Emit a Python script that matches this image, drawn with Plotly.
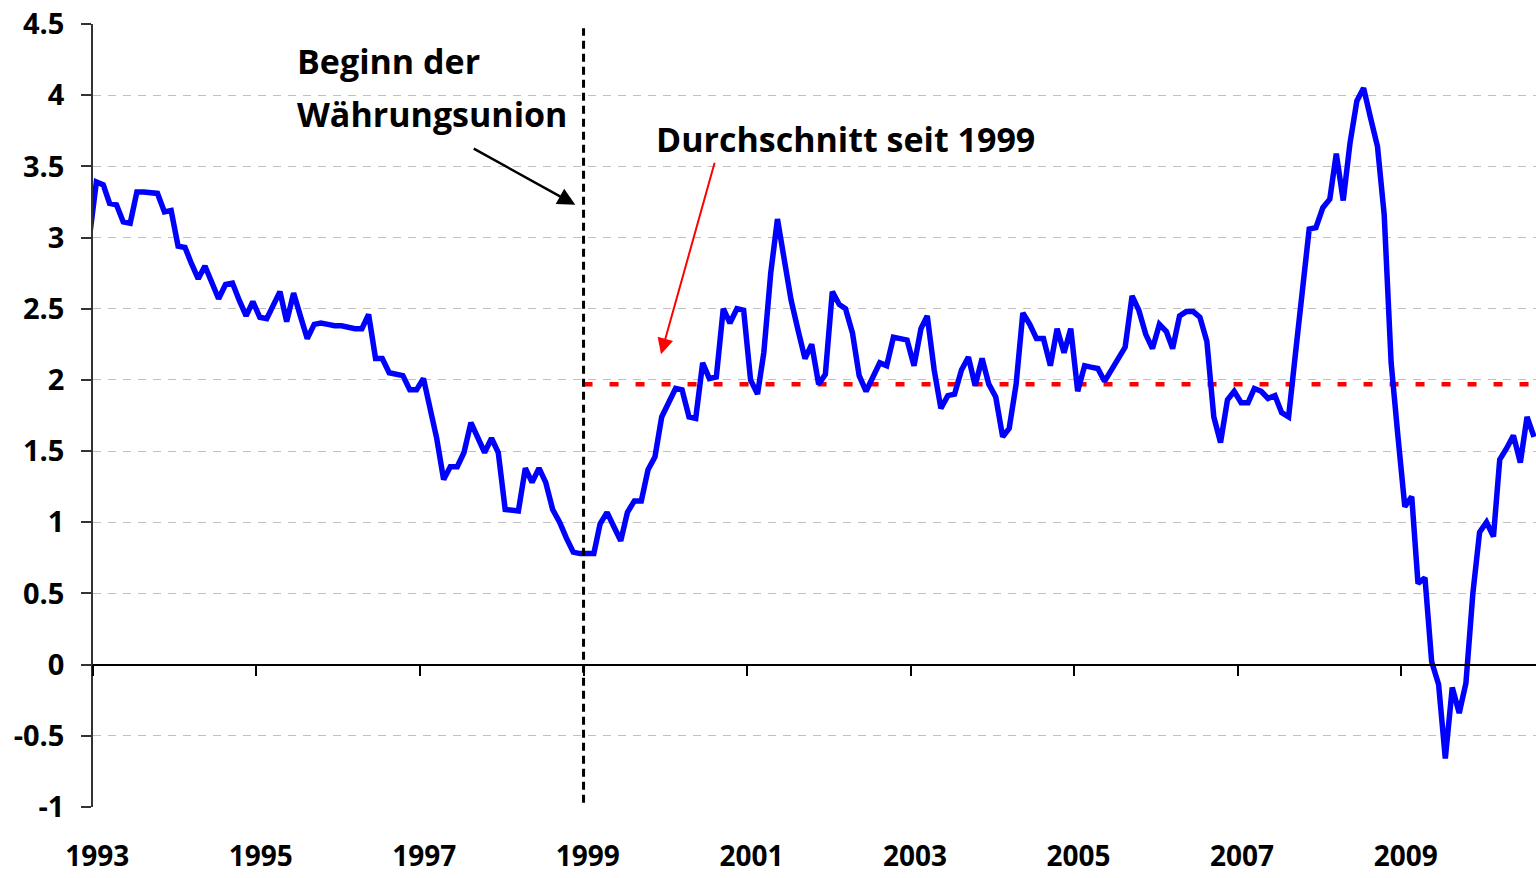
import pandas as pd
import plotly.graph_objects as go

# ---------------- data ----------------
start_month = "1992-12-01"
inflation = [
    3.00,
    # 1993
    3.39, 3.37, 3.24, 3.23, 3.11, 3.10, 3.32, 3.32, 3.31, 3.31, 3.18, 3.19,
    # 1994
    2.94, 2.93, 2.82, 2.71, 2.80, 2.68, 2.57, 2.67, 2.68, 2.56, 2.45, 2.55,
    # 1995
    2.44, 2.43, 2.52, 2.62, 2.41, 2.61, 2.45, 2.29, 2.39, 2.40, 2.39, 2.38,
    # 1996
    2.38, 2.37, 2.36, 2.36, 2.46, 2.15, 2.15, 2.05, 2.04, 2.03, 1.93, 1.93,
    # 1997
    2.01, 1.81, 1.59, 1.30, 1.39, 1.39, 1.49, 1.70, 1.60, 1.49, 1.59, 1.49,
    # 1998
    1.09, 1.08, 1.08, 1.38, 1.28, 1.38, 1.28, 1.09, 1.00, 0.89, 0.79, 0.78,
    # 1999
    0.78, 0.78, 0.99, 1.07, 0.97, 0.87, 1.07, 1.15, 1.15, 1.37, 1.46, 1.74,
    # 2000
    1.84, 1.94, 1.93, 1.74, 1.73, 2.12, 2.01, 2.02, 2.50, 2.40, 2.50, 2.49,
    # 2001
    2.00, 1.90, 2.19, 2.75, 3.13, 2.84, 2.56, 2.35, 2.15, 2.25, 1.97, 2.04,
    # 2002
    2.62, 2.53, 2.50, 2.33, 2.03, 1.92, 2.01, 2.12, 2.10, 2.30, 2.29, 2.28,
    # 2003
    2.10, 2.36, 2.45, 2.07, 1.80, 1.89, 1.90, 2.07, 2.16, 1.96, 2.15, 1.97,
    # 2004
    1.88, 1.60, 1.66, 1.97, 2.47, 2.39, 2.29, 2.29, 2.10, 2.36, 2.19, 2.36,
    # 2005
    1.92, 2.10, 2.09, 2.08, 1.99, 2.07, 2.16, 2.23, 2.59, 2.49, 2.32, 2.22,
    # 2006
    2.39, 2.34, 2.22, 2.45, 2.48, 2.48, 2.44, 2.27, 1.74, 1.56, 1.86, 1.92,
    # 2007
    1.84, 1.84, 1.94, 1.92, 1.87, 1.89, 1.77, 1.74, 2.19, 2.60, 3.06, 3.07,
    # 2008
    3.21, 3.27, 3.59, 3.26, 3.66, 3.96, 4.05, 3.84, 3.64, 3.16, 2.12, 1.61,
    # 2009
    1.11, 1.18, 0.57, 0.61, 0.02, -0.14, -0.66, -0.16, -0.34, -0.13, 0.50, 0.93,
    # 2010
    1.00, 0.90, 1.44, 1.52, 1.61, 1.42, 1.74, 1.60,
]
avg_since_1999 = 1.97
euro_start = "1999-01-01"
x_start, x_end = "1993-01-01", "2010-08-25"
label_years = [1993, 1995, 1997, 1999, 2001, 2003, 2005, 2007, 2009]
y_ticks = [4.5, 4, 3.5, 3, 2.5, 2, 1.5, 1, 0.5, 0, -0.5, -1]
y_ticktext = ["4.5", "4", "3.5", "3", "2.5", "2", "1.5", "1", "0.5", "0", "-0.5", "-1"]
text_begin = ["Beginn der", "Währungsunion"]
text_avg = "Durchschnitt seit 1999"

# ---------------- figure ----------------
dates = pd.date_range(start_month, periods=len(inflation), freq="MS") + pd.Timedelta(days=15)

FONT = "Open Sans"
fig = go.Figure()

# average line (since 1999)
fig.add_trace(go.Scatter(
    x=[euro_start, x_end], y=[avg_since_1999, avg_since_1999],
    mode="lines", line=dict(color="#ff0000", width=4.5, dash="9px,17px"),
    hoverinfo="skip", showlegend=False))

# inflation line
fig.add_trace(go.Scatter(
    x=dates, y=inflation, mode="lines",
    line=dict(color="#0000ff", width=5.5), showlegend=False))

# helper trace for zero-line axis
fig.add_trace(go.Scatter(x=[], y=[], xaxis="x2", showlegend=False))

fig.add_shape(type="line", xref="x", yref="y",
              x0=euro_start, x1=euro_start, y0=-0.97, y1=4.47,
              line=dict(color="black", width=3, dash="8px,5px"), layer="above")

tick_font = dict(family=FONT, size=29, color="black", weight="bold")
xtick_font = dict(family=FONT, size=28, color="black", weight="bold")

fig.update_layout(
    width=1536, height=878,
    margin=dict(l=93, r=0, t=24, b=71, autoexpand=False),
    paper_bgcolor="white", plot_bgcolor="white",
    showlegend=False,
    xaxis=dict(
        type="date", range=[x_start, x_end],
        tickvals=[f"{y}-01-20" for y in label_years],
        ticktext=[str(y) for y in label_years],
        tickfont=xtick_font, showline=False, ticks="", showgrid=False,
        zeroline=False, ticklabelstandoff=30,
    ),
    xaxis2=dict(
        type="date", overlaying="x", matches="x", anchor="free",
        position=1 / 5.5, range=[x_start, x_end],
        tickvals=[f"{y}-01-01" for y in label_years],
        showticklabels=False, ticks="outside", ticklen=11, tickwidth=1.5,
        tickcolor="black", showline=True, linecolor="black", linewidth=1.5,
        showgrid=False, zeroline=False,
    ),
    yaxis=dict(
        range=[-1, 4.5], tickvals=y_ticks, ticktext=y_ticktext,
        tickfont=tick_font, showline=True, linecolor="#333333", linewidth=1.5,
        ticks="outside", ticklen=10, tickwidth=1.5, tickcolor="#333333",
        showgrid=True, gridcolor="#c0c0c0", gridwidth=1, griddash="8px,7px",
        zeroline=False, ticklabelstandoff=11,
    ),
)

ann_font = dict(family=FONT, size=34, color="black", weight="bold")
fig.add_annotation(text=text_begin[0], xref="paper", yref="paper",
                   x=0.1400, y=0.9527, xanchor="left", yanchor="middle",
                   showarrow=False, font=ann_font)
fig.add_annotation(text=text_begin[1], xref="paper", yref="paper",
                   x=0.1400, y=0.885, xanchor="left", yanchor="middle",
                   showarrow=False, font=ann_font)
fig.add_annotation(text=text_avg, xref="paper", yref="paper",
                   x=0.3890, y=0.8531, xanchor="left", yanchor="middle",
                   showarrow=False, font=ann_font)

# arrows
fig.add_annotation(text="", x="1998-11-25", y=3.23, xref="x", yref="y",
                   ax=-103, ay=-57, axref="pixel", ayref="pixel",
                   showarrow=True, arrowhead=2, arrowsize=1.4, arrowwidth=2.5,
                   arrowcolor="black", standoff=0)
fig.add_annotation(text="", x="1999-12-13", y=2.18, xref="x", yref="y",
                   ax=54, ay=-193, axref="pixel", ayref="pixel",
                   showarrow=True, arrowhead=2, arrowsize=1.6, arrowwidth=2,
                   arrowcolor="#ff0000", standoff=0)

fig.write_html("out.html", config={"displayModeBar": False},
               post_script="document.body.style.margin='0';document.body.style.overflow='hidden';")
